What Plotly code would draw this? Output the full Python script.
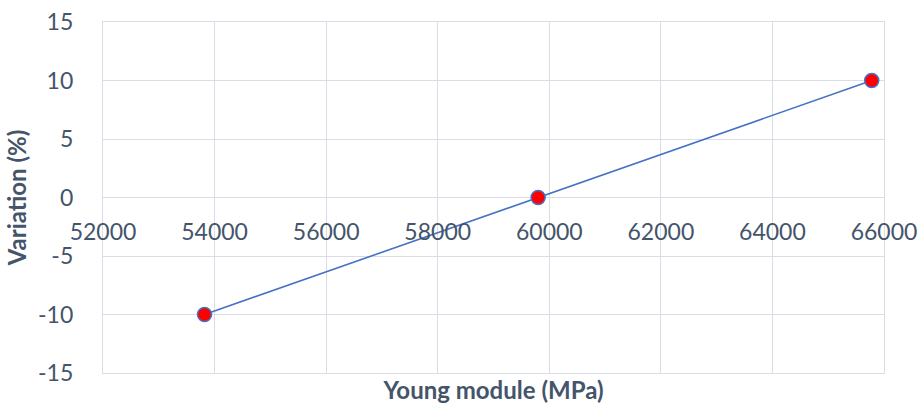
import plotly.graph_objects as go

# Young's modulus sensitivity: modulus values and their relative variation
young_modulus_mpa = [53820, 59800, 65780]
variation_pct = [-10, 0, 10]

x_tick_values = [52000, 54000, 56000, 58000, 60000, 62000, 64000, 66000]
y_tick_values = [-15, -10, -5, 0, 5, 10, 15]
y_tick_labels = ["-15", "-10", "-5", "0", "5", "10", "15"]

text_color = "#44546A"
grid_color = "#D9DEE6"
series_color = "#4472C4"
font_family = "Lato, 'Open Sans', sans-serif"

fig = go.Figure()

# a transparent companion trace keeps the overlaid label axis drawn
fig.add_trace(
    go.Scatter(
        x=young_modulus_mpa,
        y=variation_pct,
        xaxis="x2",
        mode="markers",
        marker=dict(opacity=0),
        showlegend=False,
        hoverinfo="skip",
    )
)
fig.add_trace(
    go.Scatter(
        x=young_modulus_mpa,
        y=variation_pct,
        mode="lines+markers",
        line=dict(color=series_color, width=1.6),
        marker=dict(size=14, color="#FF0000", line=dict(color=series_color, width=1.5)),
        showlegend=False,
        hoverinfo="x+y",
    )
)

fig.update_layout(
    width=918,
    height=408,
    margin=dict(l=103, r=34, t=22, b=35),
    paper_bgcolor="white",
    plot_bgcolor="white",
    font=dict(family=font_family, color=text_color, size=22),
    # bottom axis: carries the grid, the frame and the title
    xaxis=dict(
        range=[52000, 66000],
        tickvals=x_tick_values,
        showticklabels=False,
        showgrid=True,
        gridcolor=grid_color,
        gridwidth=1.3,
        zeroline=False,
        showline=True,
        mirror=True,
        linecolor=grid_color,
        linewidth=1.3,
        automargin=False,
        title=dict(
            text="<b>Young module (MPa)</b>",
            font=dict(size=24, color=text_color, family=font_family),
            standoff=9,
        ),
    ),
    # tick labels sit on the y = 0 line
    xaxis2=dict(
        overlaying="x",
        matches="x",
        anchor="free",
        position=0.5,
        side="bottom",
        tickvals=x_tick_values,
        ticktext=[str(v) for v in x_tick_values],
        ticks="outside",
        ticklen=14,
        tickcolor="rgba(0,0,0,0)",
        showgrid=False,
        zeroline=False,
        showline=False,
        automargin=False,
        tickfont=dict(size=23, color=text_color, family=font_family),
    ),
    yaxis=dict(
        range=[-15, 15],
        tickvals=y_tick_values,
        ticktext=y_tick_labels,
        showgrid=True,
        gridcolor=grid_color,
        gridwidth=1.3,
        zeroline=False,
        showline=True,
        mirror=True,
        linecolor=grid_color,
        linewidth=1.3,
        automargin=False,
        ticklabelstandoff=24,
        tickfont=dict(size=23, color=text_color, family=font_family),
        title=dict(
            text="<b>Variation (%)</b>",
            font=dict(size=24, color=text_color, family=font_family),
            standoff=4,
        ),
    ),
)

fig.write_html("out.html")
